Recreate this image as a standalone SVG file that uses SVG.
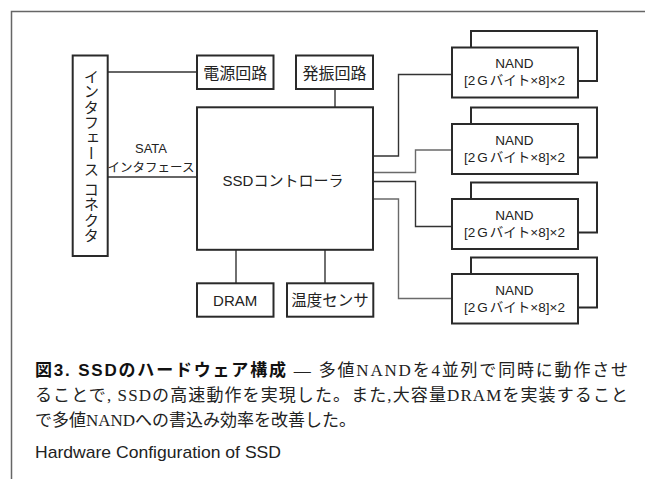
<svg xmlns="http://www.w3.org/2000/svg" width="645" height="479" viewBox="0 0 645 479">
<style>
.box{fill:#fff;stroke:#2a2a2a;stroke-width:2}
.loop{fill:none;stroke:#2a2a2a;stroke-width:2}
.ln{fill:none;stroke:#333;stroke-width:1.4}
.lnl{fill:none;stroke:#6a6a6a;stroke-width:1.4}
.t{font-family:"Liberation Sans","Noto Sans CJK JP",sans-serif;fill:#222;text-anchor:middle}
.cap{font-family:"Liberation Serif","Noto Sans CJK JP",serif;fill:#222;font-size:17px}
.capb{font-family:"Liberation Sans","Noto Sans CJK JP",sans-serif;font-weight:700;fill:#111}
</style>
<rect width="645" height="479" fill="#fff"/>
<path d="M11.5 479 V11.5 H645" fill="none" stroke="#666" stroke-width="1.5"/>

<g id="connectors">
  <path class="ln" d="M108 72 H197"/>
  <path class="ln" d="M108 177 H197"/>
  <path class="ln" d="M335 89 V107"/>
  <path class="ln" d="M236 250 V283"/>
  <path class="ln" d="M325 250 V283"/>
  <path class="ln" d="M373 156 H398.5 V74.5 H452"/>
  <path class="lnl" d="M373 172.5 H415.5 V150 H452"/>
  <path class="ln" d="M373 181.5 H415.5 V226.5 H452"/>
  <path class="lnl" d="M373 199 H398.5 V298.5 H452"/>
  <path class="loop" d="M578 81 H597 V31 H471 V47.5"/>
  <path class="loop" d="M578 157.5 H597 V107.5 H471 V124"/>
  <path class="loop" d="M578 232.5 H597 V182.5 H471 V199"/>
  <path class="loop" d="M578 307.5 H597 V257.5 H471 V274"/>
  <text class="t" x="151" y="152.5" font-size="13">SATA</text>
  <text class="t" x="151" y="172" font-size="12.5">インタフェース</text>
</g>

<g id="interface-connector">
  <rect class="box" x="72.7" y="55.5" width="35" height="200.5"/>
  <text class="t" x="90" y="156" font-size="15.3" style="writing-mode:vertical-rl" letter-spacing="0.2">インタフェース コネクタ</text>
</g>
<g id="power">
  <rect class="box" x="197" y="55.5" width="76.5" height="33.5"/>
  <text class="t" x="235.2" y="79" font-size="16">電源回路</text>
</g>
<g id="oscillator">
  <rect class="box" x="296" y="55.5" width="77" height="33.5"/>
  <text class="t" x="334.5" y="79" font-size="16">発振回路</text>
</g>
<g id="controller">
  <rect class="box" x="197" y="107.3" width="176" height="142.5"/>
  <text class="t" x="283" y="186" font-size="15">SSDコントローラ</text>
</g>
<g id="dram">
  <rect class="box" x="197" y="283.3" width="76.5" height="33.4"/>
  <text class="t" x="235.2" y="305.5" font-size="15">DRAM</text>
</g>
<g id="sensor">
  <rect class="box" x="287" y="283.3" width="86.3" height="33.4"/>
  <text class="t" x="330" y="305.5" font-size="15.5">温度センサ</text>
</g>
<g id="nand1">
  <rect class="box" x="452" y="47.5" width="126" height="50"/>
  <text class="t" x="514.5" y="68" font-size="13.5">NAND</text>
  <text class="t" x="514.5" y="85" font-size="13.5">[2<tspan dx="2">G</tspan><tspan dx="2">バイト×8]×2</tspan></text>
</g>
<g id="nand2">
  <rect class="box" x="452" y="124" width="126" height="50"/>
  <text class="t" x="514.5" y="144.5" font-size="13.5">NAND</text>
  <text class="t" x="514.5" y="161.5" font-size="13.5">[2<tspan dx="2">G</tspan><tspan dx="2">バイト×8]×2</tspan></text>
</g>
<g id="nand3">
  <rect class="box" x="452" y="199" width="126" height="50"/>
  <text class="t" x="514.5" y="219.5" font-size="13.5">NAND</text>
  <text class="t" x="514.5" y="236.5" font-size="13.5">[2<tspan dx="2">G</tspan><tspan dx="2">バイト×8]×2</tspan></text>
</g>
<g id="nand4">
  <rect class="box" x="452" y="274" width="126" height="49.5"/>
  <text class="t" x="514.5" y="294.5" font-size="13.5">NAND</text>
  <text class="t" x="514.5" y="311.5" font-size="13.5">[2<tspan dx="2">G</tspan><tspan dx="2">バイト×8]×2</tspan></text>
</g>

<g id="caption">
  <text class="cap" x="35" y="376" textLength="593" lengthAdjust="spacing"><tspan class="capb">図3. SSDのハードウェア構成</tspan> — 多値NANDを4並列で同時に動作させ</text>
  <text class="cap" x="35" y="401" textLength="593" lengthAdjust="spacing">ることで, SSDの高速動作を実現した。また,大容量DRAMを実装すること</text>
  <text class="cap" x="35" y="426">で多値NANDへの書込み効率を改善した。</text>
  <text x="35" y="458" font-family="Liberation Sans, sans-serif" font-size="17" fill="#222" textLength="246" lengthAdjust="spacingAndGlyphs">Hardware Configuration of SSD</text>
</g>
</svg>
